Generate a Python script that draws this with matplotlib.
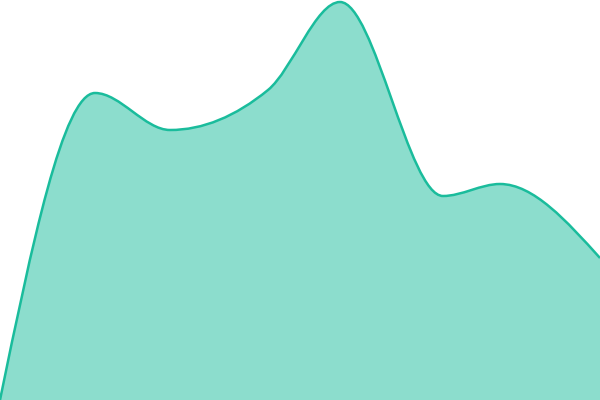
import numpy as np
import matplotlib
matplotlib.use('Agg')
import matplotlib.pyplot as plt
from matplotlib.path import Path
from matplotlib.patches import PathPatch

# points (x in px, value = height above the bottom)
x_vals = [0, 95, 170, 268, 340, 443, 500, 600]
y_vals = [0, 307, 270, 310, 398, 204, 216, 142]

line_color = '#1abc9c'


def monotone_path(xs, ys):
    """Build a monotone-x cubic bezier path through the points (like d3.curveMonotoneX)."""
    xs = np.asarray(xs, float)
    ys = np.asarray(ys, float)
    n = len(xs)
    h = np.diff(xs)
    s = np.diff(ys) / h
    t = np.zeros(n)
    for i in range(1, n - 1):
        p = (s[i - 1] * h[i] + s[i] * h[i - 1]) / (h[i - 1] + h[i])
        t[i] = (np.sign(s[i - 1]) + np.sign(s[i])) * min(abs(s[i - 1]), abs(s[i]), 0.5 * abs(p))
    t[0] = (3 * s[0] - t[1]) / 2
    t[-1] = (3 * s[-1] - t[-2]) / 2

    verts = [(xs[0], ys[0])]
    codes = [Path.MOVETO]
    for i in range(n - 1):
        dx = h[i] / 3
        verts += [(xs[i] + dx, ys[i] + dx * t[i]),
                  (xs[i + 1] - dx, ys[i + 1] - dx * t[i + 1]),
                  (xs[i + 1], ys[i + 1])]
        codes += [Path.CURVE4] * 3
    return verts, codes


verts, codes = monotone_path(x_vals, y_vals)

fig = plt.figure(figsize=(6, 4), dpi=100)
ax = fig.add_axes([0, 0, 1, 1])
ax.set_xlim(0, 600)
ax.set_ylim(0, 400)
ax.axis('off')

# filled area: curve then down to the baseline
area_verts = verts + [(x_vals[-1], 0), (x_vals[0], 0), verts[0]]
area_codes = codes + [Path.LINETO, Path.LINETO, Path.CLOSEPOLY]
ax.add_patch(PathPatch(Path(area_verts, area_codes), facecolor=line_color,
                       alpha=0.5, edgecolor='none'))
ax.add_patch(PathPatch(Path(verts, codes), facecolor='none',
                       edgecolor=line_color, linewidth=1.8))

fig.savefig('out.png', dpi=100)
